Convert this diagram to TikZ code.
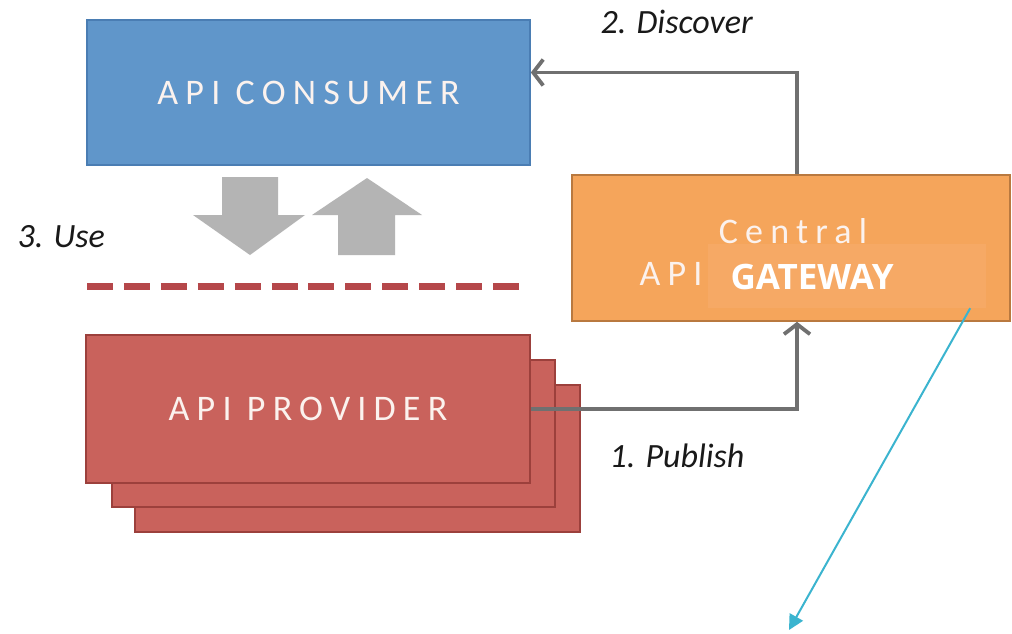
\documentclass[tikz,border=0pt]{standalone}
\usepackage{fontspec}
\setmainfont{Carlito}
\newfontfamily\boxfont[LetterSpace=20]{Carlito}
\newfontfamily\gwfont{Open Sans}
\usetikzlibrary{arrows.meta,calc}
\definecolor{consfill}{HTML}{6096CA}
\definecolor{consline}{HTML}{4A7DB3}
\definecolor{centfill}{HTML}{F5A55B}
\definecolor{centline}{HTML}{B9793F}
\definecolor{gwfill}{HTML}{F6A965}
\definecolor{provfill}{HTML}{C9625C}
\definecolor{provline}{HTML}{9C403C}
\definecolor{blockgray}{HTML}{B4B4B4}
\definecolor{conngray}{HTML}{707070}
\definecolor{dashred}{HTML}{B5474A}
\definecolor{cyanline}{HTML}{3BB4CF}
\definecolor{boxtext}{HTML}{FBF2EE}
\tikzset{
  box/.style={rectangle, inner sep=0pt, line width=1.6pt},
  consbox/.style={box, fill=consfill, draw=consline},
  centbox/.style={box, fill=centfill, draw=centline},
  provbox/.style={box, fill=provfill, draw=provline},
  boxlabel/.style={text=boxtext, font=\boxfont\fontsize{36}{40}\selectfont},
  steplabel/.style={font=\itshape\fontsize{34}{38}\selectfont, text=black!90},
  conn/.style={draw=conngray, line width=3.8pt,
    -{Straight Barb[length=10pt, width=26pt, line width=3.8pt]}},
  blockarrow/.style={fill=blockgray, draw=none},
}
\begin{document}
\begin{tikzpicture}[x=1pt, y=-1pt]
\useasboundingbox[fill=white] (0,0) rectangle (1012,633);

% provider stack, back to front
\node[provbox, minimum width=445pt, minimum height=147pt] (prov3) at (357.5,458.5) {};
\node[provbox, minimum width=443pt, minimum height=147pt] (prov2) at (333.5,433.5) {};
\node[provbox, minimum width=444pt, minimum height=148pt, boxlabel] (prov) at (308,409) {API PROVIDER};

% consumer
\node[consbox, minimum width=443pt, minimum height=145pt, boxlabel] (cons) at (308.5,92.5) {API CONSUMER};

% central registry with its overlay
\node[centbox, minimum width=438pt, minimum height=146pt] (cen) at (791,248) {};
\node[boxlabel, anchor=base] (central) at (793,243) {Central};
\node[boxlabel, anchor=base] (api) at (671,285) {API};
\node[fill=gwfill, minimum width=278pt, minimum height=64pt, inner sep=0pt] (gw) at (847,276) {};
\node[text=white, font=\gwfont\bfseries\fontsize{35}{38}\selectfont, anchor=base west] (gwtext) at (727,289) {GATEWAY};

% use arrows
\path[blockarrow] (222,177) -- (278,177) -- (278,215) -- (305,215) -- (250,255) -- (193,215) -- (222,215) -- cycle;
\path[blockarrow] (338,255) -- (395,255) -- (395,215) -- (422,215) -- (367,178) -- (312,215) -- (338,215) -- cycle;

% boundary line
\coordinate (dl) at (87,286);
\coordinate (dr) at (519,286);
\draw[dashred, line width=7pt, dash pattern=on 26pt off 10.9pt] (dl) -- (dr);

% flows
\draw[conn] (prov.east) -| ([xshift=6pt]cen.south);
\draw[conn] ([xshift=6pt]cen.north) |- ([yshift=20pt]cons.east);

% labels
\node[steplabel, anchor=base west] (publish) at (606,467) {1. Publish};
\node[steplabel, anchor=base west] (discover) at (597,33) {2. Discover};
\node[steplabel, anchor=base west] (use) at (14,247) {3. Use};

% pointer
\coordinate (ptr) at (789,630);
\draw[cyanline, line width=2pt, -{Triangle[length=15pt, width=15pt]}] ([xshift=-16pt]gw.south east) -- (ptr);
\end{tikzpicture}
\end{document}
